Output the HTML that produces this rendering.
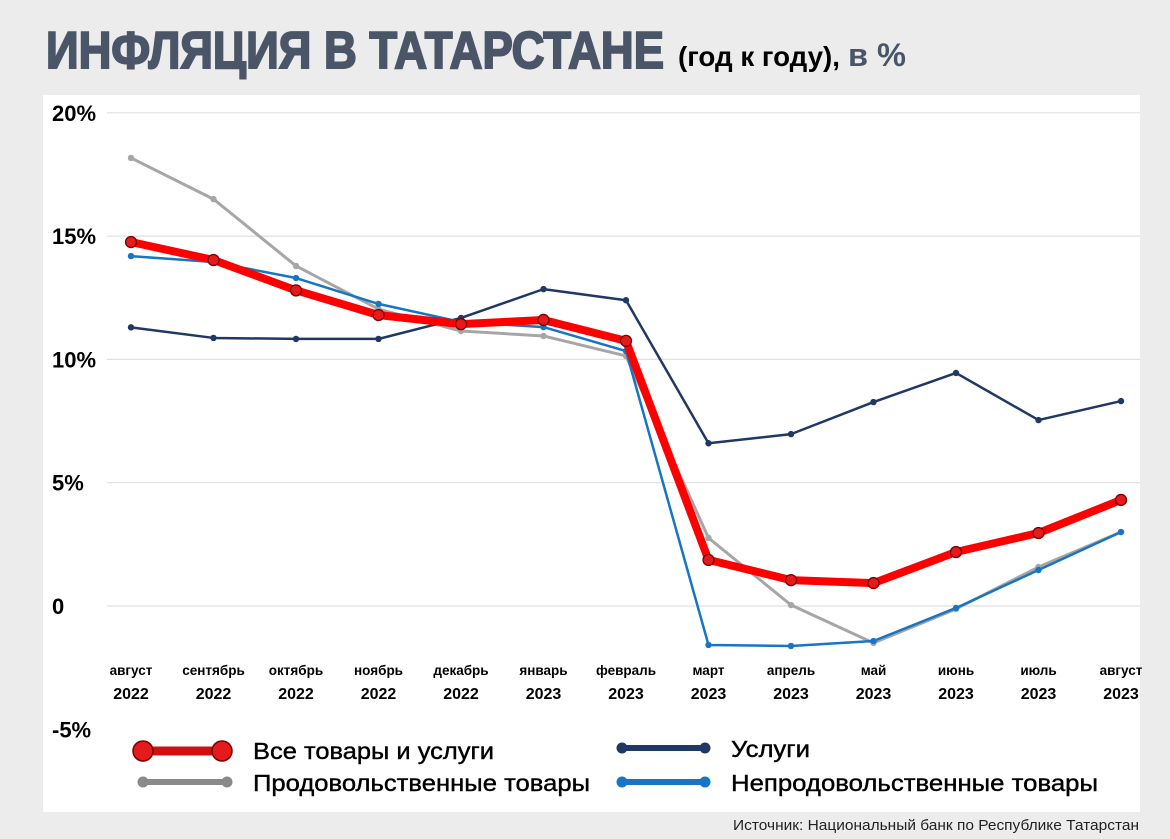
<!DOCTYPE html>
<html><head><meta charset="utf-8"><style>
body{margin:0;background:#ececec;}
svg{display:block;font-family:"Liberation Sans",sans-serif;}
</style></head><body>
<svg id="c" width="1170" height="839" xmlns="http://www.w3.org/2000/svg">
<rect x="0" y="0" width="1170" height="839" fill="#ececec"/>
<rect x="43" y="95" width="1097" height="717" fill="#fff"/>
<text x="46" y="68" font-size="52" font-weight="bold" fill="#4a5568" stroke="#4a5568" stroke-width="2" textLength="618" lengthAdjust="spacingAndGlyphs">ИНФЛЯЦИЯ В ТАТАРСТАНЕ</text>
<text x="678" y="66" font-size="28" font-weight="bold" fill="#000" textLength="162" lengthAdjust="spacingAndGlyphs">(год к году),</text>
<text x="848" y="66" font-size="32" font-weight="bold" fill="#4a5568" textLength="58" lengthAdjust="spacingAndGlyphs">в %</text>
<g id="grid"></g><g id="ylab"></g><g id="xlab"></g><g id="series"></g>
<g>
<line x1="143" y1="751" x2="222" y2="751" stroke="#d01010" stroke-width="9"/>
<circle cx="143" cy="751" r="10" fill="#e51a1a" stroke="#7a0000" stroke-width="1.5"/><circle cx="222" cy="751" r="10" fill="#e51a1a" stroke="#7a0000" stroke-width="1.5"/>
<text x="253" y="759" font-size="23" fill="#000" stroke="#000" stroke-width="0.4" textLength="241" lengthAdjust="spacingAndGlyphs">Все товары и услуги</text>
<line x1="143" y1="782" x2="227" y2="782" stroke="#8a8a8a" stroke-width="6"/>
<circle cx="143" cy="782" r="5.5" fill="#8a8a8a"/><circle cx="227" cy="782" r="5.5" fill="#8a8a8a"/>
<text x="253" y="791" font-size="23" fill="#000" stroke="#000" stroke-width="0.4" textLength="337" lengthAdjust="spacingAndGlyphs">Продовольственные товары</text>
<line x1="622" y1="748" x2="705" y2="748" stroke="#1f3864" stroke-width="6"/>
<circle cx="622" cy="748" r="5.5" fill="#1f3864"/><circle cx="705" cy="748" r="5.5" fill="#1f3864"/>
<text x="731" y="757" font-size="23" fill="#000" stroke="#000" stroke-width="0.4" textLength="79" lengthAdjust="spacingAndGlyphs">Услуги</text>
<line x1="622" y1="782" x2="705" y2="782" stroke="#1874c4" stroke-width="6"/>
<circle cx="622" cy="782" r="5.5" fill="#1874c4"/><circle cx="705" cy="782" r="5.5" fill="#1874c4"/>
<text x="731" y="791" font-size="23" fill="#000" stroke="#000" stroke-width="0.4" textLength="367" lengthAdjust="spacingAndGlyphs">Непродовольственные товары</text>
</g>
<text x="733" y="830" font-size="15" fill="#222" textLength="406" lengthAdjust="spacingAndGlyphs">Источник: Национальный банк по Республике Татарстан</text>
</svg>
<script>
const months=["август","сентябрь","октябрь","ноябрь","декабрь","январь","февраль","март","апрель","май","июнь","июль","август"];
const years=["2022","2022","2022","2022","2022","2023","2023","2023","2023","2023","2023","2023","2023"];
const yTicks=[20,15,10,5,0,-5];
const yTickLabels=["20%","15%","10%","5%","0","-5%"];
const allGoods=[14.76,14.03,12.8,11.8,11.43,11.6,10.75,1.87,1.05,0.93,2.19,2.96,4.3];
const services=[11.3,10.87,10.83,10.83,11.68,12.85,12.4,6.6,6.97,8.27,9.45,7.54,8.31];
const food=[18.17,16.5,13.79,12.04,11.15,10.95,10.14,2.76,0.04,-1.5,-0.12,1.58,3.0];
const nonFood=[14.19,13.95,13.3,12.25,11.52,11.31,10.34,-1.58,-1.62,-1.42,-0.08,1.46,3.0];
const NS="http://www.w3.org/2000/svg";
function X(i){return 131+i*82.5;}
function Y(v){return 606-v*24.66;}
function mk(t,a,p){const e=document.createElementNS(NS,t);for(const k in a)e.setAttribute(k,a[k]);p.appendChild(e);return e;}
const grid=document.getElementById('grid'),ylab=document.getElementById('ylab'),xlab=document.getElementById('xlab'),ser=document.getElementById('series');
yTicks.forEach((v,i)=>{
 if(v>-5){const l=mk('line',{x1:107,x2:1140,y1:Y(v),y2:Y(v),stroke:'#e0e0e0','stroke-width':1.2},grid);
 
 }
 const t=mk('text',{x:52,y:Y(v)+8,'font-size':22,'font-weight':'bold',fill:'#000'},ylab);
 
 
 t.textContent=yTickLabels[i];
});
months.forEach((m,i)=>{
 const t=mk('text',{x:X(i),y:675,'font-size':13.5,'font-weight':'bold','text-anchor':'middle',fill:'#000'},xlab);
 
 
 t.textContent=m;
 const t2=mk('text',{x:X(i),y:699,'font-size':16,'font-weight':'bold','text-anchor':'middle',fill:'#000'},xlab);
 
 
 t2.textContent=years[i];
});
function draw(vals,color,w,r,name,stroke){
 const g=mk('g',{},ser);
 
 
 const pl=mk('polyline',{points:vals.map((v,i)=>X(i)+','+Y(v)).join(' '),fill:'none',stroke:color,'stroke-width':w,'stroke-linejoin':'round'},g);
 
 
 vals.forEach((v,i)=>{const c=mk('circle',{cx:X(i),cy:Y(v),r:r,fill:stroke?'#e51a1a':color,stroke:stroke||'none','stroke-width':1.3},g);
 
 });
}
draw(food,'#a6a6a6',3,3.2,'series-food');
draw(services,'#1f3864',2.5,3.2,'series-services');
draw(nonFood,'#1874c4',2.5,3.2,'series-nonfood');
draw(allGoods,'#ff0000',8,5.5,'series-all','#7a0000');
</script>
</body></html>
